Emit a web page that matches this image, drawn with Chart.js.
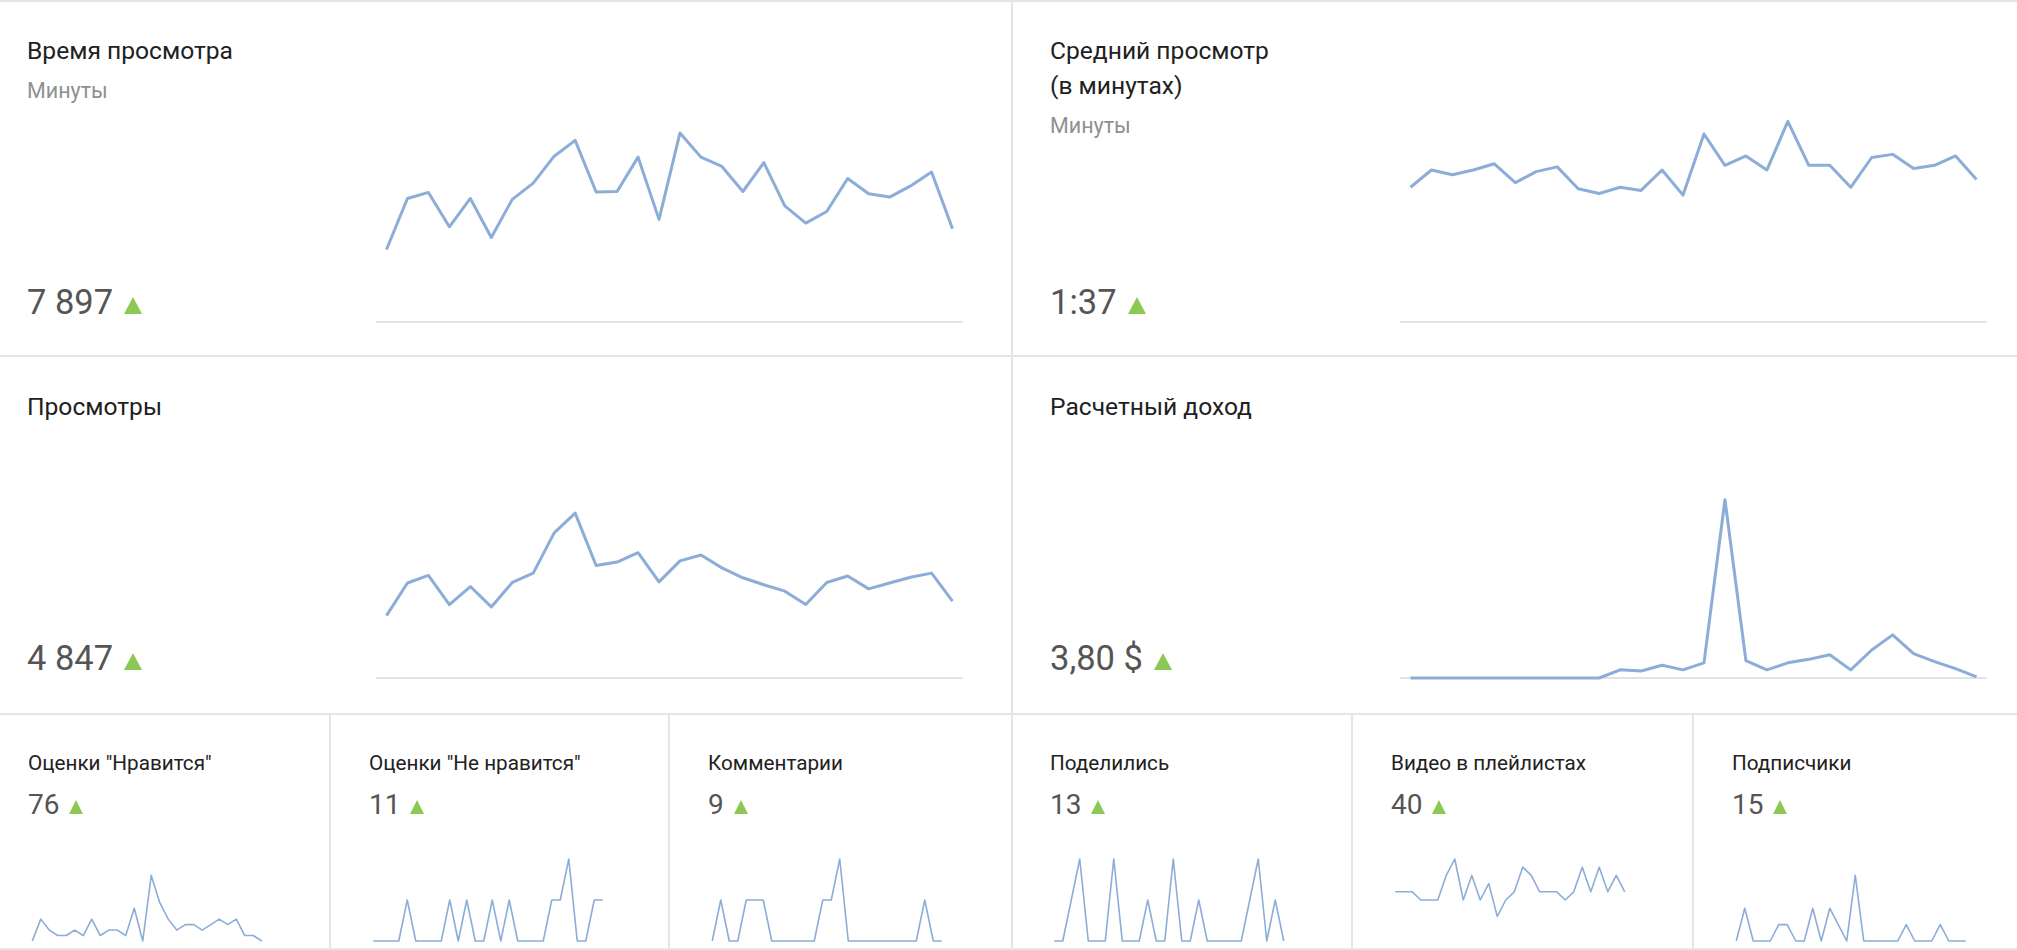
<!DOCTYPE html>
<html lang="ru">
<head>
<meta charset="utf-8">
<title>Аналитика канала</title>
<script src="https://cdn.jsdelivr.net/npm/chart.js@4.4.1/dist/chart.umd.min.js"></script>
<style>
  html, body { margin: 0; padding: 0; background: #fff; }
  body { width: 2017px; height: 950px; position: relative; overflow: hidden;
         font-family: Roboto, "Noto Sans", Arial, sans-serif; }
  .hline { position: absolute; left: 0; width: 2017px; height: 2px; background: #e5e5e5; }
  .vline { position: absolute; width: 2px; background: #e5e5e5; }
  .title { position: absolute; font-size: 24.6px; line-height: 35px; color: #212121; white-space: nowrap; }
  .sub { position: absolute; font-size: 21.5px; line-height: 20px; color: #909090; }
  .big { position: absolute; font-size: 34.5px; line-height: 34px; color: #555; white-space: nowrap; }
  .tri { display: inline-block; width: 0; height: 0; margin-left: 11px;
         border-left: 9px solid transparent; border-right: 9px solid transparent;
         border-bottom: 17px solid #8cc954; }
  .stitle { position: absolute; font-size: 20.7px; line-height: 20px; color: #212121; white-space: nowrap; }
  .snum { position: absolute; font-size: 28px; line-height: 28px; color: #555; white-space: nowrap; }
  .snum .tri { margin-left: 10px; border-left-width: 7.5px; border-right-width: 7.5px; border-bottom-width: 14px; }
  canvas { position: absolute; }
</style>
</head>
<body>

<div class="hline" style="top:0"></div>
<div class="hline" style="top:355px"></div>
<div class="hline" style="top:713px"></div>
<div class="hline" style="top:948px"></div>
<div class="vline" style="left:1011px; top:0; height:950px"></div>
<div class="vline" style="left:329px; top:714px; height:236px"></div>
<div class="vline" style="left:668px; top:714px; height:236px"></div>
<div class="vline" style="left:1351px; top:714px; height:236px"></div>
<div class="vline" style="left:1692px; top:714px; height:236px"></div>

<!-- top row -->
<div class="title" style="left:27px; top:33px">Время просмотра</div>
<div class="sub" style="left:27px; top:80.5px">Минуты</div>
<div class="big" style="left:27px; top:285px">7 897<span class="tri"></span></div>
<canvas id="watchChart" width="603" height="238" style="left:368px; top:92px"></canvas>

<div class="title" style="left:1050px; top:33px">Средний просмотр<br>(в минутах)</div>
<div class="sub" style="left:1050px; top:115.5px">Минуты</div>
<div class="big" style="left:1050px; top:285px">1:37<span class="tri"></span></div>
<canvas id="avgChart" width="603" height="238" style="left:1392px; top:92px"></canvas>

<!-- middle row -->
<div class="title" style="left:27px; top:389px">Просмотры</div>
<div class="big" style="left:27px; top:641px">4 847<span class="tri"></span></div>
<canvas id="viewsChart" width="603" height="238" style="left:368px; top:448px"></canvas>

<div class="title" style="left:1050px; top:389px">Расчетный доход</div>
<div class="big" style="left:1050px; top:641px">3,80 $<span class="tri"></span></div>
<canvas id="revenueChart" width="603" height="238" style="left:1392px; top:448px"></canvas>

<!-- bottom row -->
<div class="stitle" style="left:28px; top:753px">Оценки "Нравится"</div>
<div class="snum" style="left:28px; top:791px">76<span class="tri"></span></div>
<canvas id="likesChart" width="250" height="94" style="left:22px; top:853px"></canvas>

<div class="stitle" style="left:369px; top:753px">Оценки "Не нравится"</div>
<div class="snum" style="left:369px; top:791px">11<span class="tri"></span></div>
<canvas id="dislikesChart" width="250" height="94" style="left:363px; top:853px"></canvas>

<div class="stitle" style="left:708px; top:753px">Комментарии</div>
<div class="snum" style="left:708px; top:791px">9<span class="tri"></span></div>
<canvas id="commentsChart" width="250" height="94" style="left:702px; top:853px"></canvas>

<div class="stitle" style="left:1050px; top:753px">Поделились</div>
<div class="snum" style="left:1050px; top:791px">13<span class="tri"></span></div>
<canvas id="sharesChart" width="250" height="94" style="left:1044px; top:853px"></canvas>

<div class="stitle" style="left:1391px; top:753px">Видео в плейлистах</div>
<div class="snum" style="left:1391px; top:791px">40<span class="tri"></span></div>
<canvas id="playlistChart" width="250" height="94" style="left:1385px; top:853px"></canvas>

<div class="stitle" style="left:1732px; top:753px">Подписчики</div>
<div class="snum" style="left:1732px; top:791px">15<span class="tri"></span></div>
<canvas id="subsChart" width="250" height="94" style="left:1726px; top:853px"></canvas>

<script>
// 28 дней
const days = ["1", "2", "3", "4", "5", "6", "7", "8", "9", "10", "11", "12", "13", "14",
  "15", "16", "17", "18", "19", "20", "21", "22", "23", "24", "25", "26", "27", "28"];

// минуты просмотра по дням
const watchTime = [156, 266, 279, 205, 266, 182, 264, 299, 357, 391, 280, 281, 355, 221,
  407, 355, 335, 281, 343, 250, 213, 238, 309, 276, 269, 293, 323, 201];
// средний просмотр, секунды
const avgView = [86, 97, 94, 97, 101, 89, 96, 99, 85, 82, 86, 84, 97, 81,
  120, 100, 106, 97, 128, 100, 100, 86, 105, 107, 98, 100, 106, 91];
const views = [107, 163, 176, 126, 157, 122, 164, 180, 249, 283, 193, 199, 215, 165,
  201, 211, 189, 172, 160, 149, 126, 164, 175, 153, 163, 173, 180, 132];
const revenue = [0, 0, 0, 0, 0, 0, 0, 0, 0, 0, 0.07, 0.06, 0.11, 0.07,
  0.13, 1.53, 0.15, 0.07, 0.13, 0.16, 0.20, 0.07, 0.24, 0.37, 0.21, 0.14, 0.08, 0.01];

const likes = [0, 4, 2, 1, 1, 2, 1, 4, 1, 2, 2, 1, 6, 0, 12, 7, 4, 2, 3, 3, 2, 3, 4, 3, 4, 1, 1, 0];
const dislikes = [0, 0, 0, 0, 1, 0, 0, 0, 0, 1, 0, 1, 0, 0, 1, 0, 1, 0, 0, 0, 0, 1, 1, 2, 0, 0, 1, 1];
const comments = [0, 1, 0, 0, 1, 1, 1, 0, 0, 0, 0, 0, 0, 1, 1, 2, 0, 0, 0, 0, 0, 0, 0, 0, 0, 1, 0, 0];
const shares = [0, 0, 1, 2, 0, 0, 0, 2, 0, 0, 0, 1, 0, 0, 2, 0, 0, 1, 0, 0, 0, 0, 0, 1, 2, 0, 1, 0];
const playlists = [1, 1, 1, 0, 0, 0, 3, 5, 0, 3, 0, 2, -2, 0, 1, 4, 3, 1, 1, 1, 0, 1, 4, 1, 4, 1, 3, 1];
const subscribers = [0, 2, 0, 0, 0, 1, 1, 0, 0, 2, 0, 2, 1, 0, 4, 0, 0, 0, 0, 0, 1, 0, 0, 0, 1, 0, 0, 0];

const lineColor = "#8badd8";

// grey line at zero under the big sparklines
const baseLine = {
  id: "baseLine",
  beforeDatasetsDraw(chart) {
    const { ctx, chartArea } = chart;
    const y = chart.scales.y.getPixelForValue(0);
    ctx.save();
    ctx.strokeStyle = "#e3e3e3";
    ctx.lineWidth = 2;
    ctx.beginPath();
    ctx.moveTo(chartArea.left, y);
    ctx.lineTo(chartArea.right, y);
    ctx.stroke();
    ctx.restore();
  },
};

function spark(id, data, yMin, yMax, width, pad, withBase) {
  return new Chart(document.getElementById(id), {
    type: "line",
    data: {
      labels: days,
      datasets: [
        {
          data: data,
          borderColor: lineColor,
          borderWidth: width,
          pointRadius: 0,
          tension: 0,
          fill: false,
          clip: false,
          borderJoinStyle: "round",
        },
      ],
    },
    options: {
      responsive: false,
      animation: false,
      events: [],
      layout: { padding: pad },
      plugins: { legend: { display: false }, tooltip: { enabled: false } },
      scales: {
        x: { display: false, offset: true },
        y: { display: false, min: yMin, max: yMax },
      },
    },
    plugins: withBase ? [baseLine] : [],
  });
}

spark("watchChart", watchTime, 0, 478, 3, 8, true);
spark("avgChart", avgView, 0, 141.7, 3, 8, true);
spark("viewsChart", views, 0, 381, 3, 8, true);
spark("revenueChart", revenue, 0, 1.905, 3, 8, true);

spark("likesChart", likes, 0, 15, 1.6, 6, false);
spark("dislikesChart", dislikes, 0, 2, 1.6, 6, false);
spark("commentsChart", comments, 0, 2, 1.6, 6, false);
spark("sharesChart", shares, 0, 2, 1.6, 6, false);
spark("playlistChart", playlists, -5, 5, 1.6, 6, false);
spark("subsChart", subscribers, 0, 5, 1.6, 6, false);
</script>
</body>
</html>
